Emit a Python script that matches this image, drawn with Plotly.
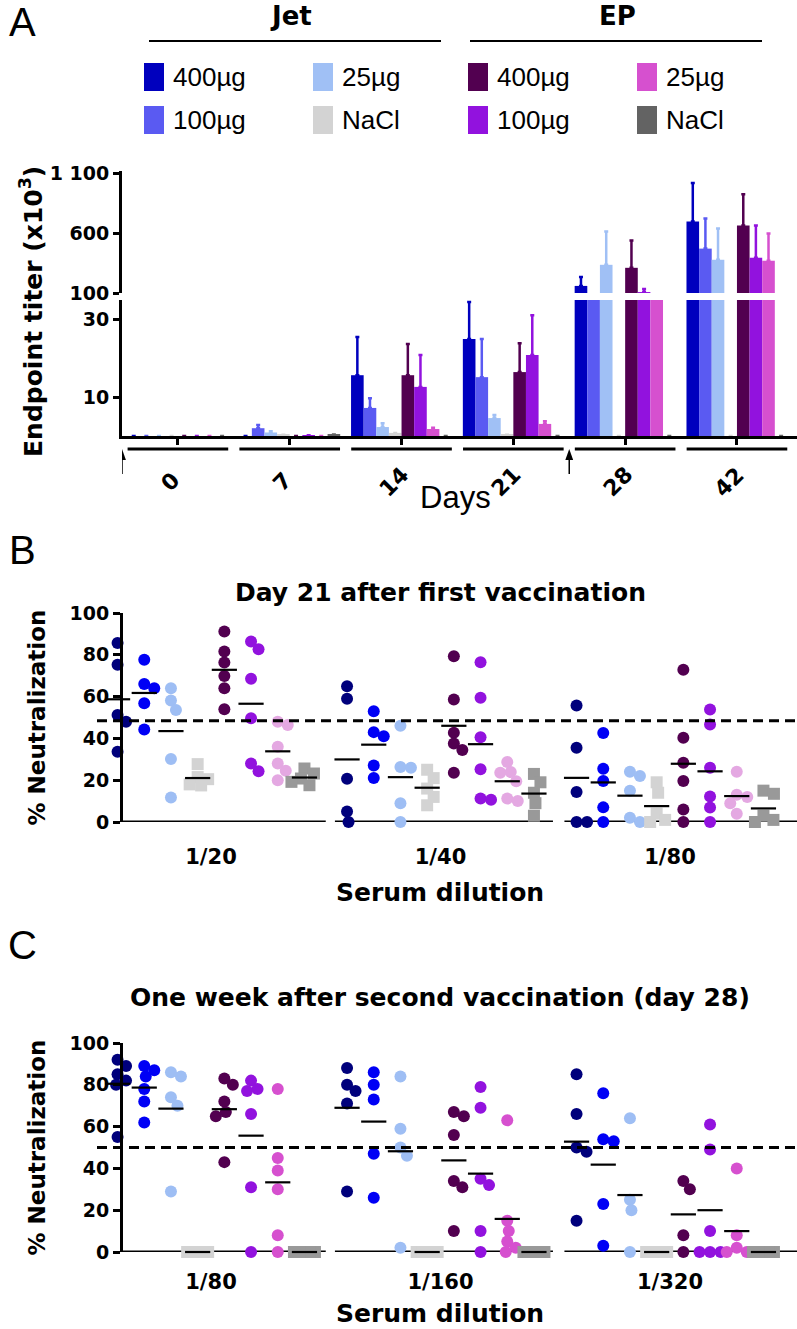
import numpy as np
import plotly.graph_objects as go

W, H = 797, 1329

# ---------------- Panel A: endpoint titers (x10^3) ----------------
days = ["0", "7", "14", "21", "28", "42"]
legend_labels = ["400µg", "100µg", "25µg", "NaCl", "400µg", "100µg", "25µg", "NaCl"]

titer_jet400 = [0.0, 0.0, 15.6, 24.9, 159, 697]
titer_jet100 = [0.0, 2.0, 7.2, 15.1, 60, 470]
titer_jet25 = [0.0, 0.9, 2.3, 4.6, 335, 377]
titer_jetnacl = [0.0, 0.3, 0.8, 0.3, 0.0, 0.0]
titer_ep400 = [0.0, 0.0, 15.6, 16.4, 310, 663]
titer_ep100 = [0.0, 0.2, 12.6, 20.8, 108, 394]
titer_ep25 = [0.0, 0.0, 1.8, 3.1, 70, 369]
titer_epnacl = [0.0, 0.4, 0.0, 0.0, 0.0, 0.0]

errtop_jet400 = [None, None, 25.4, 34.4, 234, 1016]
errtop_jet100 = [None, 2.8, 9.7, 24.9, None, 722]
errtop_jet25 = [None, 1.2, 3.3, 5.4, 613, 638]
errtop_jetnacl = [None, None, None, None, None, None]
errtop_ep400 = [None, None, 23.6, 23.8, 537, 924]
errtop_ep100 = [None, None, 20.8, 31.0, 134, 663]
errtop_ep25 = [None, None, 2.1, 3.8, None, 596]
errtop_epnacl = [None, None, None, None, None, None]

# ---------------- Panel B: day 21 neutralization (%) ----------------
dil_B = ["1/20", "1/40", "1/80"]
d21_jet400 = [[85.6, 75.2, 51.2, 48.0, 33.6], [65.0, 59.0, 20.7, 5.0, 0.0], [55.7, 35.5, 14.4, 0.0, 0.0]]
d21_jet100 = [[77.6, 66.0, 64.0, 56.8, 44.3], [53.0, 43.0, 41.0, 27.0, 21.0], [42.6, 25.5, 19.6, 7.0, 0.0]]
d21_jet25 = [[64.0, 58.1, 53.6, 30.1, 11.7], [46.0, 26.3, 26.0, 9.0, 0.0], [24.0, 22.0, 15.0, 2.0, 0.0]]
d21_jetnacl = [[27.7, 21.5, 20.5, 18.0, 17.5], [25.0, 21.0, 16.0, 12.0, 8.0], [19.0, 14.0, 4.0, 1.0, 0.0]]
d21_ep400 = [[91.2, 81.6, 76.3, 69.9, 64.0, 53.9], [79.3, 58.6, 42.7, 37.6, 34.4, 23.6], [72.9, 40.3, 28.4, 19.6, 6.0, 0.0]]
d21_ep100 = [[86.4, 82.7, 68.5, 49.6, 28.0, 24.3], [76.4, 59.4, 40.6, 25.2, 11.2, 10.6], [53.8, 46.6, 26.0, 12.2, 6.9, 0.0]]
d21_ep25 = [[48.0, 46.4, 36.0, 28.0, 24.5, 20.0], [28.7, 23.9, 23.6, 19.5, 11.2, 10.1], [24.0, 13.0, 12.0, 9.0, 4.0]]
d21_epnacl = [[25.6, 23.2, 20.8, 19.2, 17.6], [23.0, 19.0, 14.0, 9.0, 3.0], [15.0, 13.5, 3.0, 1.0, 0.0]]
threshold_B = 48.5

# ---------------- Panel C: day 28 neutralization (%) ----------------
dil_C = ["1/80", "1/160", "1/320"]
d28_jet400 = [[92, 89, 85, 82, 80, 55], [88, 80, 77, 71, 29], [85, 66, 50, 48, 15]]
d28_jet100 = [[89, 87, 84, 78, 72, 62], [86, 80, 73, 47, 26], [76, 54, 53, 23, 3]]
d28_jet25 = [[86, 84, 74, 70, 29], [84, 59, 50, 46, 2], [64, 25, 20, 0]]
d28_jetnacl = [[0, 0, 0, 0, 0], [0, 0, 0, 0, 0], [0, 0, 0, 0, 0]]
d28_ep400 = [[83, 80, 72, 67, 65, 43], [67, 65, 56, 34, 31, 10], [34, 30, 8, 0]]
d28_ep100 = [[82, 78, 77, 66, 31, 0], [79, 69, 35, 32, 10, 0], [61, 49, 10, 0, 0, 0]]
d28_ep25 = [[78, 45, 39, 30, 8, 0], [63, 15, 10, 5, 2, 0], [40, 8, 2, 0, 0]]
d28_epnacl = [[0, 0, 0, 0, 0], [0, 0, 0, 0, 0], [0, 0, 0, 0, 0]]
threshold_C = 50

# ---------------- styles ----------------
colors_A = ["#0000BE", "#5A5AF2", "#A0C0F5", "#D3D3D3", "#520050", "#9212DE", "#D650CF", "#636363"]
colors_B = ["#00007C", "#0000F5", "#9EBEF4", "#D3D3D3", "#520050", "#9212DE", "#E4A8E2", "#999999"]
colors_C = ["#00007C", "#0000F5", "#9EBEF4", "#D3D3D3", "#520050", "#9212DE", "#D650CF", "#999999"]
symbols = ["circle", "circle", "circle", "square", "circle", "circle", "circle", "square"]

BOLD = "DejaVu Sans"
REG = "Liberation Sans, Arial, sans-serif"


def bfont(size):
    return dict(family=BOLD, size=size, color="black", weight="bold")


def rfont(size):
    return dict(family=REG, size=size, color="black")


def px(x):
    return x / W


def py(y):
    return 1 - y / H


fig = go.Figure()

# ---------- Panel A bars ----------
titers = [titer_jet400, titer_jet100, titer_jet25, titer_jetnacl,
          titer_ep400, titer_ep100, titer_ep25, titer_epnacl]
errtops = [errtop_jet400, errtop_jet100, errtop_jet25, errtop_jetnacl,
           errtop_ep400, errtop_ep100, errtop_ep25, errtop_epnacl]
xa = list(range(len(days)))
for yax in ["y", "y2"]:
    for k in range(8):
        vals = titers[k]
        err = [(t - v) if t is not None else float("nan") for v, t in zip(vals, errtops[k])]
        fig.add_trace(go.Bar(
            x=xa, y=vals, xaxis="x", yaxis=yax, showlegend=False,
            marker=dict(color=colors_A[k], line=dict(width=0)),
            error_y=dict(type="data", array=err, symmetric=False,
                         arrayminus=[0] * len(vals), color=colors_A[k],
                         thickness=2.5, width=2),
        ))


# ---------- beeswarm ----------
def swarm(values, ppu, D=10.5, cap=13.0):
    vals = np.asarray(values, dtype=float)
    order = np.argsort(-vals, kind="stable")
    cands = sorted(np.arange(-cap, cap + 0.01, 0.5), key=lambda c: (abs(c), -c))
    placed = []
    offs = np.zeros(len(vals))
    for i in order:
        yv = vals[i] * ppu
        chosen, best_c, best_d = None, 0.0, -1.0
        for c in cands:
            d = min([np.hypot(c - a, yv - b) for a, b in placed], default=1e9)
            if d >= D:
                chosen = c
                break
            if d > best_d:
                best_d, best_c = d, c
        if chosen is None:
            chosen = best_c
        offs[i] = chosen
        placed.append((chosen, yv))
    return offs


G0_PX = 211.0      # pixel centre of first dilution group
GROUP_PX = 229.5   # pixel distance between dilution groups
SUB_PX = 26.7      # pixel distance between treatment columns
SPINE_PX = 121     # y-axis position of panels B and C
XDOM_PX = 92       # left end of the x domain of panels B and C


def add_neut_panel(data, colors, xaxis, yaxis, ppu):
    mx, my = [], []
    for k in range(8):
        xs, ys = [], []
        for g in range(3):
            v = data[k][g]
            offs = swarm(v, ppu)
            base = g + (k - 3.5) * SUB_PX / GROUP_PX
            xs += list(base + offs / GROUP_PX)
            ys += list(v)
            mx.append(base)
            my.append(float(np.mean(v)))
        fig.add_trace(go.Scatter(
            x=xs, y=ys, mode="markers", xaxis=xaxis, yaxis=yaxis, showlegend=False,
            cliponaxis=False,
            marker=dict(symbol=symbols[k], size=12, color=colors[k], line=dict(width=0)),
        ))
    fig.add_trace(go.Scatter(
        x=mx, y=my, mode="markers", xaxis=xaxis, yaxis=yaxis, showlegend=False,
        cliponaxis=False,
        marker=dict(symbol="line-ew", size=18, color="black", line=dict(width=2.2, color="black")),
    ))


B_TOP, B_BOT = 613, 822
C_TOP, C_BOT = 1043, 1252

dataB = [d21_jet400, d21_jet100, d21_jet25, d21_jetnacl, d21_ep400, d21_ep100, d21_ep25, d21_epnacl]
dataC = [d28_jet400, d28_jet100, d28_jet25, d28_jetnacl, d28_ep400, d28_ep100, d28_ep25, d28_epnacl]
add_neut_panel(dataB, colors_B, "x2", "y3", (B_BOT - B_TOP) / 100)
add_neut_panel(dataC, colors_C, "x3", "y4", (C_BOT - C_TOP) / 100)

# ---------- layout ----------
ax_common = dict(showgrid=False, zeroline=False, automargin=False)
xrange_neut = [(XDOM_PX - G0_PX) / GROUP_PX, (797 - G0_PX) / GROUP_PX]
yspine = dict(showline=True, linewidth=3, linecolor="black",
              ticks="outside", tickwidth=3, tickcolor="black")

fig.update_layout(
    width=W, height=H, margin=dict(l=0, r=0, t=0, b=0),
    paper_bgcolor="white", plot_bgcolor="white",
    barmode="group", bargap=0.097, bargroupgap=0,
    xaxis=dict(domain=[px(122), 1], range=[-0.5, 5.537], anchor="y",
               showline=True, linewidth=3, linecolor="black",
               ticks="outside", ticklen=6, tickwidth=3, tickcolor="black",
               tickvals=xa, showticklabels=False, **ax_common),
    yaxis=dict(domain=[py(436), py(300)], range=[0, 34.9], anchor="x", ticklen=6,
               tickvals=[10, 30], ticktext=["10", "30"], tickfont=bfont(19), **yspine, **ax_common),
    yaxis2=dict(domain=[py(293), py(171)], range=[100, 1117], anchor="x", ticklen=6,
                tickvals=[100, 600, 1100], ticktext=["100", "600", "1 100"],
                tickfont=bfont(19), **yspine, **ax_common),
    xaxis2=dict(domain=[px(XDOM_PX), 1], range=xrange_neut, anchor="y3",
                showline=False, ticks="", tickvals=[0, 1, 2], ticktext=dil_B,
                tickfont=bfont(21), ticklabelstandoff=20, **ax_common),
    yaxis3=dict(domain=[py(B_BOT), py(B_TOP)], range=[0, 100], anchor="free", position=px(SPINE_PX),
                ticklen=7, tickvals=[0, 20, 40, 60, 80, 100], tickfont=bfont(19), **yspine, **ax_common),
    xaxis3=dict(domain=[px(XDOM_PX), 1], range=xrange_neut, anchor="y4",
                showline=False, ticks="", tickvals=[0, 1, 2], ticktext=dil_C,
                tickfont=bfont(21), ticklabelstandoff=15, **ax_common),
    yaxis4=dict(domain=[py(C_BOT), py(C_TOP)], range=[0, 100], anchor="free", position=px(SPINE_PX),
                ticklen=7, tickvals=[0, 20, 40, 60, 80, 100], tickfont=bfont(19), **yspine, **ax_common),
)

shapes = []
ann = []


def text(t, x, y, font, angle=0, xanchor="center", xref="paper", xshift=0):
    ann.append(dict(text=t, x=x, y=y, xref=xref, yref="paper", xanchor=xanchor, yanchor="middle",
                    showarrow=False, textangle=angle, font=font, xshift=xshift))


# Panel A header lines and legend
shapes.append(dict(type="line", xref="paper", yref="paper", x0=px(149), x1=px(441), y0=py(41), y1=py(41),
                   line=dict(color="black", width=2)))
shapes.append(dict(type="line", xref="paper", yref="paper", x0=px(470), x1=px(762), y0=py(41), y1=py(41),
                   line=dict(color="black", width=2)))
text("Jet", px(291), py(16), bfont(26))
text("EP", px(617), py(16), bfont(26))

leg_sq_x = [144, 144, 313, 313, 468, 468, 637, 637]
leg_row_y = [77, 120, 77, 120, 77, 120, 77, 120]
for k in range(8):
    x0, yc = leg_sq_x[k], leg_row_y[k]
    shapes.append(dict(type="rect", xref="paper", yref="paper", x0=px(x0), x1=px(x0 + 20),
                       y0=py(yc + 14), y1=py(yc - 14), fillcolor=colors_A[k], line=dict(width=0)))
    text(legend_labels[k], px(x0 + 27), py(yc), rfont(26), xanchor="left")

# Panel A day group underlines, labels, arrows
for i, d in enumerate(days):
    shapes.append(dict(type="line", xref="x", yref="paper", x0=i - 0.45, x1=i + 0.45, y0=py(449), y1=py(449),
                       line=dict(color="black", width=3)))
    text(d, i, py(482), bfont(22), angle=-45, xref="x", xshift=-7)
for xv in [-0.5, 3.5]:
    shapes.append(dict(type="line", xref="x", yref="paper", x0=xv, x1=xv, y0=py(474), y1=py(457),
                       line=dict(color="black", width=1.5)))
    shapes.append(dict(type="path", xref="x", yref="paper", fillcolor="black", line=dict(width=0),
                       path="M %f,%f L %f,%f L %f,%f Z" % (xv, py(449), xv - 0.035, py(460),
                                                           xv + 0.035, py(460))))
text("Days", px(455), py(497), rfont(31))
text("Endpoint titer (x10<sup>3</sup>)", px(31), py(312), bfont(25), angle=-90)

# Panel letters
for letter, yy in [("A", 22), ("B", 550), ("C", 945)]:
    text(letter, px(22), py(yy), rfont(40))

# Panels B and C decorations
x_spine = (SPINE_PX - G0_PX) / GROUP_PX
x_right = (797 - G0_PX) / GROUP_PX
seg_starts = [x_spine, 0.54, 1.54]
seg_ends = [0.5, 1.49, x_right]
for xr, yr, thr, ttl, ttl_y, top, bot, xt_y in [
        ("x2", "y3", threshold_B, "Day 21 after first vaccination", 592, B_TOP, B_BOT, 892),
        ("x3", "y4", threshold_C, "One week after second vaccination (day 28)", 997, C_TOP, C_BOT, 1313)]:
    shapes.append(dict(type="line", xref="paper", yref=yr, x0=px(97), x1=1, y0=thr, y1=thr,
                       line=dict(color="black", width=3, dash="10px,6px")))
    for s0, s1 in zip(seg_starts, seg_ends):
        shapes.append(dict(type="line", xref=xr, yref=yr, x0=s0, x1=s1, y0=0, y1=0, layer="below",
                           line=dict(color="black", width=3)))
    text("% Neutralization", px(36), py((top + bot) / 2), bfont(23), angle=-90)
    text("Serum dilution", px(440), py(xt_y), bfont(25))
    text(ttl, px(440), py(ttl_y), bfont(25))

fig.update_layout(shapes=shapes, annotations=ann)
fig.write_html("out.html", config={"displayModeBar": False},
               post_script="document.body.style.margin='0px';")
